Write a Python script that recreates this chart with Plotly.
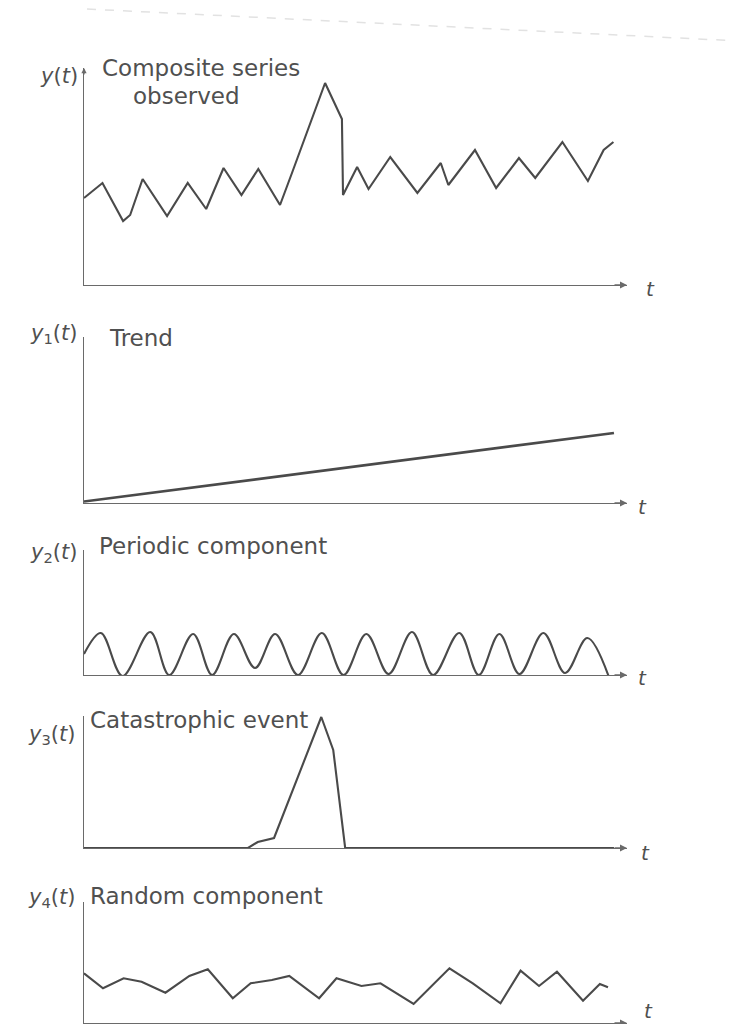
import plotly.graph_objects as go

# the page body has an 8px margin, so the figure is 16px smaller than the window
OFF = 8
W, H = 740 - 2 * OFF, 1032 - 2 * OFF

# ---------------- data ----------------
comp_t = [0, 3.4, 7.2, 8.5, 10.8, 15.3, 19.1, 22.5, 25.7, 29.0, 32.1, 36.1, 38.3, 41.7,
          44.4, 47.5, 47.7, 50.3, 52.4, 56.4, 61.4, 65.7, 67.1, 72.0, 75.9, 80.1, 83.1,
          88.1, 92.8, 95.7, 97.5]
comp_y = [8.7, 10.2, 6.4, 7.0, 10.6, 6.9, 10.2, 7.6, 11.7, 9.0, 11.6, 8.0, 11.2, 16.2,
          20.2, 16.6, 9.0, 11.8, 9.6, 12.8, 9.2, 12.2, 10.0, 13.5, 9.7, 12.7, 10.7,
          14.3, 10.4, 13.5, 14.3]

trend_t = [0, 97.6]
trend_y = [0.15, 7.0]

per_t = [0, 3.1, 7.1, 12.2, 15.7, 20.1, 23.6, 27.6, 31.5, 35.2, 39.4, 43.8, 47.8,
         52.0, 56.1, 60.4, 64.3, 69.1, 72.7, 76.5, 80.2, 84.6, 88.6, 92.7, 96.6]
per_y = [2.1, 4.2, -0.1, 4.3, 0.0, 4.1, 0.0, 4.1, 0.7, 4.1, 0.0, 4.2, 0.0,
         4.1, 0.1, 4.3, 0.0, 4.2, 0.0, 4.1, 0.1, 4.2, 0.2, 3.7, -0.1]

cat_t = [0, 30.2, 32.0, 35.0, 43.7, 45.9, 48.1, 97.6]
cat_y = [0, 0, 0.6, 1.0, 13.1, 9.8, 0, 0]

rand_t = [0, 3.5, 7.3, 10.6, 15.0, 19.4, 22.8, 27.4, 30.7, 34.6, 37.8, 43.3, 46.5,
          51.1, 54.6, 60.7, 67.3, 71.6, 76.7, 80.4, 83.8, 87.1, 91.9, 95.0, 96.5]
rand_y = [4.97, 3.47, 4.47, 4.13, 3.03, 4.7, 5.37, 2.47, 3.97, 4.3, 4.7, 2.47, 4.47,
          3.7, 3.97, 1.9, 5.47, 3.97, 1.97, 5.23, 3.7, 5.13, 2.23, 3.9, 3.57]

titles = ["Composite series", "Trend", "Periodic component", "Catastrophic event",
          "Random component"]
ylabels = ["<i>y</i>(<i>t</i>)", "<i>y</i><sub>1</sub>(<i>t</i>)",
           "<i>y</i><sub>2</sub>(<i>t</i>)", "<i>y</i><sub>3</sub>(<i>t</i>)",
           "<i>y</i><sub>4</sub>(<i>t</i>)"]
series = [(comp_t, comp_y, "linear"), (trend_t, trend_y, "linear"),
          (per_t, per_y, "spline"), (cat_t, cat_y, "linear"), (rand_t, rand_y, "linear")]

# ---------------- layout geometry (window pixels) ----------------
x_left, x_tip = 84, 627
panels = [  # baseline px, top px, y-range max
    (285, 68, 21.7),
    (503, 337, 16.6),
    (675, 550, 12.5),
    (848, 716, 13.2),
    (1023, 902, 12.1),
]
ylab_pos = [(80, 76), (79, 334), (79, 553), (77, 735), (77, 898)]   # right edge, middle
title_pos = [(100, 68), (107, 338), (97, 546), (88, 720), (88, 896)]  # left edge, middle
t_pos = [(650, 289), (642, 507), (642, 678), (645, 853), (648, 1011)]

LINE = "#4a4a4a"
AXC = "#6a6a6a"
TXT = "#505050"
FONT = "DejaVu Sans"


def px(x):
    return (x - OFF) / W


def py(y):
    return 1 - (y - OFF) / H


fig = go.Figure()
layout = dict(width=W, height=H, margin=dict(l=0, r=0, t=0, b=0), autosize=False,
              paper_bgcolor="white", plot_bgcolor="white", showlegend=False)
annotations = []

for i, ((t, v, shape), (base, top, ymax)) in enumerate(zip(series, panels)):
    k = "" if i == 0 else str(i + 1)
    width = 2.7 if i == 1 else 2.1
    fig.add_trace(go.Scatter(x=t, y=v, mode="lines", xaxis="x" + k, yaxis="y" + k,
                             line=dict(color=LINE, width=width, shape=shape,
                                       smoothing=1.0 if shape == "spline" else None),
                             hoverinfo="skip"))
    common = dict(showline=True, linecolor=AXC, linewidth=1.4, showgrid=False,
                  zeroline=False, showticklabels=False, ticks="", fixedrange=True)
    layout["xaxis" + k] = dict(domain=[px(x_left), px(x_tip)], range=[0, 100],
                               anchor="y" + k, **common)
    layout["yaxis" + k] = dict(domain=[py(base), py(top)], range=[0, ymax],
                               anchor="x" + k, **common)
    # arrow head at end of t axis
    annotations.append(dict(x=100, y=0, xref="x" + k, yref="y" + k, ax=-14, ay=0,
                            showarrow=True, arrowhead=2, arrowsize=1, arrowwidth=1.4,
                            arrowcolor=AXC, text=""))
    # "t" label
    tx, ty = t_pos[i]
    annotations.append(dict(x=px(tx), y=py(ty), xref="paper", yref="paper",
                            text="<i>t</i>", showarrow=False, xanchor="center",
                            yanchor="middle", font=dict(family=FONT, size=20, color=TXT)))
    # y label
    lx, ly = ylab_pos[i]
    annotations.append(dict(x=px(lx), y=py(ly), xref="paper", yref="paper",
                            text=ylabels[i], showarrow=False, xanchor="right",
                            yanchor="middle", font=dict(family=FONT, size=21, color=TXT)))
    # title
    tx, ty = title_pos[i]
    annotations.append(dict(x=px(tx), y=py(ty), xref="paper", yref="paper",
                            text=titles[i], showarrow=False, xanchor="left",
                            yanchor="middle", font=dict(family=FONT, size=23, color=TXT)))

annotations.append(dict(x=px(131), y=py(96), xref="paper", yref="paper", text="observed",
                        showarrow=False, xanchor="left", yanchor="middle",
                        font=dict(family=FONT, size=23, color=TXT)))
# small arrow on top of the first y axis
annotations.append(dict(x=0, y=panels[0][2], xref="x", yref="y", ax=0, ay=8,
                        showarrow=True, arrowhead=2, arrowsize=0.8, arrowwidth=1.3,
                        arrowcolor=AXC, text=""))

layout["annotations"] = annotations
layout["shapes"] = [dict(type="line", xref="paper", yref="paper", x0=px(87), y0=py(9),
                         x1=px(740), y1=py(41), line=dict(color="#e2e2e2", width=1.5,
                                                          dash="dash"))]
fig.update_layout(**layout)
fig.write_html("out.html")
